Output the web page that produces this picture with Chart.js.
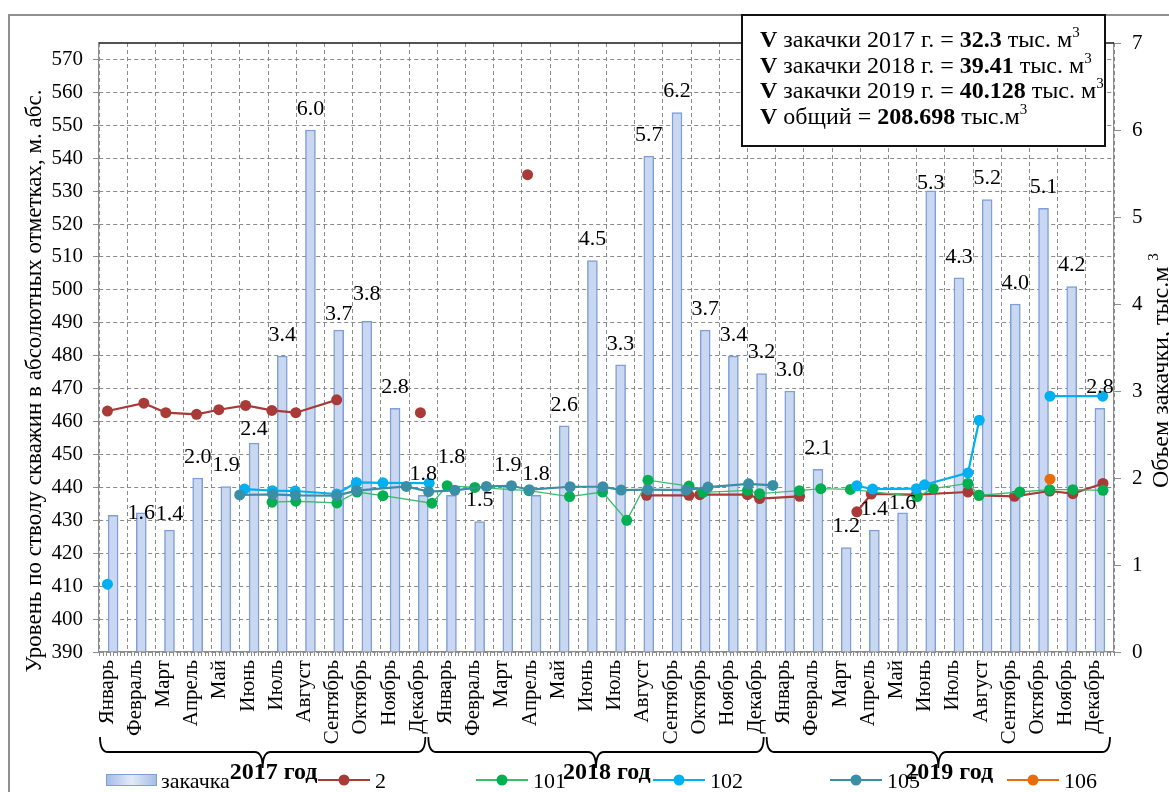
<!DOCTYPE html>
<html>
<head>
<meta charset="utf-8">
<script src="https://cdn.jsdelivr.net/npm/chart.js@4.4.1/dist/chart.umd.min.js"></script>
<style>
  html, body { margin: 0; padding: 0; background: #fff; }
  #wrap { width: 1169px; height: 792px; position: relative; }
</style>
</head>
<body>
<div id="wrap"><canvas id="chart" width="1169" height="792"></canvas></div>
<script>
// --- data ---
const months = ['Январь', 'Февраль', 'Март', 'Апрель', 'Май', 'Июнь', 'Июль', 'Август', 'Сентябрь', 'Октябрь', 'Ноябрь', 'Декабрь'];
const years = ['2017 год', '2018 год', '2019 год'];
const categories = years.flatMap(() => months);

// monthly injection volume, thousand m3 (right axis)
const injection = [1.57, 1.6, 1.4, 2.0, 1.9, 2.4, 3.4, 6.0, 3.7, 3.8, 2.8, 1.8,
                   1.8, 1.5, 1.9, 1.8, 2.6, 4.5, 3.3, 5.7, 6.2, 3.7, 3.4, 3.2,
                   3.0, 2.1, 1.2, 1.4, 1.6, 5.3, 4.3, 5.2, 4.0, 5.1, 4.2, 2.8];
const injectionLabels = ['', '1.6', '1.4', '2.0', '1.9', '2.4', '3.4', '6.0', '3.7', '3.8', '2.8', '1.8',
                         '1.8', '1.5', '1.9', '1.8', '2.6', '4.5', '3.3', '5.7', '6.2', '3.7', '3.4', '3.2',
                         '3.0', '2.1', '1.2', '1.4', '1.6', '5.3', '4.3', '5.2', '4.0', '5.1', '4.2', '2.8'];
const levelTicks = [390, 400, 410, 420, 430, 440, 450, 460, 470, 480, 490, 500, 510, 520, 530, 540, 550, 560, 570];

// well levels: [month position from Jan 2017 (0..36), level m abs]; null = break in line
const well2 = [[0.30, 463.2], [1.59, 465.6], [2.37, 462.7], [3.46, 462.2], [4.25, 463.6], [5.20, 464.9],
               [6.13, 463.4], [6.98, 462.7], [8.43, 466.6], null, [11.40, 462.7], null, [15.20, 535.0], null,
               [19.42, 437.6], [20.93, 437.6], [21.31, 437.8], [23.00, 437.8], [23.43, 436.6], [24.85, 437.3], null,
               [26.88, 432.6], [27.39, 438.0], [28.99, 437.8], [30.82, 438.6], [31.21, 437.6], [32.47, 437.3],
               [33.72, 438.9], [34.54, 438.1], [35.61, 441.2]];
const well101 = [[6.14, 435.5], [6.98, 435.8], [8.44, 435.3], [9.15, 438.6], [10.07, 437.5], [11.81, 435.2],
                 [12.35, 440.5], [13.33, 440.0], [15.25, 439.0], [16.69, 437.2], [17.86, 438.6], [18.72, 430.0],
                 [19.47, 442.2], [20.93, 440.4], [21.42, 438.5], [23.00, 439.1], [23.43, 438.1], [24.84, 439.0],
                 [25.60, 439.6], [26.65, 439.4], [29.02, 437.2], [29.59, 439.6], [30.82, 441.2], [31.21, 437.6],
                 [32.66, 438.6], [33.72, 439.3], [34.54, 439.3], [35.61, 439.1]];
const well102 = [[0.30, 410.6], null, [5.16, 439.5], [6.15, 439.0], [6.96, 438.9], [8.43, 438.0], [9.13, 441.5],
                 [10.07, 441.4], [11.71, 441.3], null, [26.88, 440.5], [27.44, 439.5], [28.99, 439.6],
                 [29.28, 440.8], [30.82, 444.4], [31.22, 460.4], null, [33.73, 467.7], [35.60, 467.7]];
const well105 = [[4.99, 437.7], [6.16, 437.9], [6.97, 437.6], [8.43, 437.5], [9.13, 439.0], [10.90, 440.3],
                 [11.69, 438.7], [12.62, 439.1], [13.74, 440.3], [14.63, 440.5], [15.26, 439.3], [16.71, 440.2],
                 [17.87, 440.2], [18.52, 439.2], [19.46, 439.3], [20.83, 439.2], [21.60, 440.1], [23.04, 441.1],
                 [23.90, 440.6]];
const well106 = [[33.73, 442.5]];

const summaryYears = ['2017', '2018', '2019'];
const summaryVolumes = ['32.3', '39.41', '40.128'];
const summaryTotal = '208.698';

// --- styling ---
const serif = '"Liberation Serif", "Times New Roman", serif';
const gridGray = '#8a8a8a';
const axisGray = '#8c8c8c';
const wells = [
  { name: '2', data: well2, color: '#a83a37', width: 2.2 },
  { name: '101', data: well101, color: '#00b050', line: '#3dbb6c', width: 1.3 },
  { name: '102', data: well102, color: '#00b0f0', width: 2.2 },
  { name: '105', data: well105, color: '#3a8ea6', width: 2.2 },
  { name: '106', data: well106, color: '#e86c0c', width: 2.2 }
];
// label lift above the bar top, and hand-moved labels (bar index -> extra px)
const labelLift = 21;
const labelNudge = { 1: 21, 2: 5, 5: 7, 8: 5, 9: -6, 12: -17, 28: 11, 29: 13 };

function toPoints(list) {
  const out = [];
  let lastX = 0;
  for (const p of list) {
    if (p === null) {
      out.push({ x: lastX + 0.05, y: null });
    } else {
      out.push({ x: p[0], y: p[1] });
      lastX = p[0];
    }
  }
  return out;
}

// draw a row of text pieces, bold / superscript where asked
function drawRuns(ctx, x, y, parts, size) {
  for (const p of parts) {
    const s = p.sup ? Math.round(size * 0.62) : size;
    ctx.font = (p.bold ? 'bold ' : '') + s + 'px ' + serif;
    ctx.fillText(p.t, x, p.sup ? y - size * 0.4 : y);
    x += ctx.measureText(p.t).width;
  }
  return x;
}

function barFill(ctx, x0, x1) {
  const g = ctx.createLinearGradient(x0, 0, x1, 0);
  g.addColorStop(0, '#a3bce6');
  g.addColorStop(0.5, '#e2eaf7');
  g.addColorStop(1, '#a3bce6');
  return g;
}

const decorations = {
  id: 'decorations',
  beforeDatasetsDraw(chart) {
    const { ctx, chartArea } = chart;
    // minor ticks under the category axis
    const xl = chart.scales.xl;
    ctx.save();
    ctx.strokeStyle = axisGray;
    ctx.lineWidth = 1;
    ctx.beginPath();
    for (let v = 0; v <= 36.001; v += 0.125) {
      const px = Math.round(xl.getPixelForValue(v)) + 0.5;
      ctx.moveTo(px, chartArea.bottom);
      ctx.lineTo(px, chartArea.bottom + 4);
    }
    ctx.stroke();
    ctx.restore();
  },
  afterDraw(chart) {
    const { ctx, chartArea } = chart;
    const x = chart.scales.x;
    ctx.save();

    // outer frame of the picture
    ctx.strokeStyle = '#8f8f8f';
    ctx.lineWidth = 2;
    ctx.beginPath();
    ctx.moveTo(9, 800);
    ctx.lineTo(9, 15);
    ctx.lineTo(1175, 15);
    ctx.stroke();

    // dark top edge of the plot
    ctx.strokeStyle = '#1a1a1a';
    ctx.lineWidth = 1.5;
    ctx.beginPath();
    ctx.moveTo(chartArea.left, chartArea.top);
    ctx.lineTo(chartArea.right, chartArea.top);
    ctx.stroke();

    // bar value labels
    const bars = chart.getDatasetMeta(0).data;
    ctx.fillStyle = '#000';
    ctx.font = '22px ' + serif;
    ctx.textAlign = 'center';
    ctx.textBaseline = 'middle';
    bars.forEach((b, i) => {
      if (injectionLabels[i]) ctx.fillText(injectionLabels[i], b.x, b.y - labelLift + (labelNudge[i] || 0));
    });

    // year braces
    const step = x.getPixelForValue(1) - x.getPixelForValue(0);
    ctx.strokeStyle = '#000';
    ctx.lineWidth = 1.8;
    ctx.textAlign = 'left';
    ctx.textBaseline = 'alphabetic';
    years.forEach((label, k) => {
      const first = x.getPixelForValue(k * 12) - step / 2;
      const last = x.getPixelForValue(k * 12 + 11) + step / 2;
      const a = k === 0 ? first + 1 : first - 9;
      const b = k === years.length - 1 ? last - 4 : last - 12;
      const mid = (a + b) / 2;
      const yTop = 737, yLine = 752, yTip = 768, r = 8;
      ctx.beginPath();
      ctx.moveTo(a, yTop);
      ctx.quadraticCurveTo(a, yLine, a + r, yLine);
      ctx.lineTo(mid - r, yLine);
      ctx.quadraticCurveTo(mid, yLine, mid, yTip);
      ctx.quadraticCurveTo(mid, yLine, mid + r, yLine);
      ctx.lineTo(b - r, yLine);
      ctx.quadraticCurveTo(b, yLine, b, yTop);
      ctx.stroke();
      ctx.font = 'bold 24px ' + serif;
      ctx.fillText(label, mid - 33, 779);
    });

    // legend row
    const ly = 780;
    ctx.font = '22px ' + serif;
    ctx.textBaseline = 'middle';
    ctx.fillStyle = barFill(ctx, 106, 157);
    ctx.fillRect(106, ly - 6, 51, 12);
    ctx.strokeStyle = '#7f9fd7';
    ctx.lineWidth = 1;
    ctx.strokeRect(106.5, ly - 5.5, 50, 11);
    ctx.fillStyle = '#000';
    ctx.fillText('закачка', 161, ly + 2);
    const legendX = [318, 476, 653, 830, 1007];
    wells.forEach((w, i) => {
      const lx = legendX[i];
      ctx.strokeStyle = w.line || w.color;
      ctx.lineWidth = 2.2;
      ctx.beginPath();
      ctx.moveTo(lx, ly);
      ctx.lineTo(lx + 52, ly);
      ctx.stroke();
      ctx.fillStyle = w.color;
      ctx.beginPath();
      ctx.arc(lx + 26, ly, 5.5, 0, Math.PI * 2);
      ctx.fill();
      ctx.fillStyle = '#000';
      ctx.fillText(w.name, lx + 57, ly + 2);
    });

    // summary box
    ctx.fillStyle = '#fff';
    ctx.fillRect(742, 15, 363, 131);
    ctx.strokeStyle = '#111';
    ctx.lineWidth = 2;
    ctx.strokeRect(742, 15, 363, 131);
    ctx.fillStyle = '#000';
    ctx.textBaseline = 'alphabetic';
    const fs = 24;
    summaryYears.forEach((yr, i) => {
      drawRuns(ctx, 760, 47 + i * 25.5, [
        { t: 'V', bold: true }, { t: ' закачки ' + yr + ' г. = ' },
        { t: summaryVolumes[i], bold: true }, { t: ' тыс. м' }, { t: '3', sup: true }
      ], fs);
    });
    drawRuns(ctx, 760, 47 + 3 * 25.5, [
      { t: 'V', bold: true }, { t: ' общий = ' }, { t: summaryTotal, bold: true },
      { t: ' тыс.м' }, { t: '3', sup: true }
    ], fs);

    // axis titles
    ctx.save();
    ctx.translate(41, 381);
    ctx.rotate(-Math.PI / 2);
    ctx.font = '23px ' + serif;
    ctx.textAlign = 'center';
    ctx.fillText('Уровень по стволу скважин в абсолютных отметках, м. абс.', 0, 0);
    ctx.restore();

    ctx.save();
    ctx.translate(1168, 488);
    ctx.rotate(-Math.PI / 2);
    ctx.textAlign = 'left';
    drawRuns(ctx, 0, 0, [{ t: 'Объем закачки, тыс.м ' }, { t: '3', sup: true }], 24);
    ctx.restore();

    ctx.restore();
  }
};

const datasets = [{
  type: 'bar',
  label: 'закачка',
  data: injection,
  xAxisID: 'x',
  yAxisID: 'y1',
  order: 10,
  grouped: false, // otherwise the bar is shifted half a slot off its month
  barThickness: 10,
  backgroundColor: (c) => {
    const el = c.element;
    if (!el || !isFinite(el.x)) return '#c9d8f0';
    return barFill(c.chart.ctx, el.x - 5, el.x + 5);
  },
  borderColor: '#7f9fd6',
  borderWidth: 1.5,
  borderSkipped: 'bottom'
}];
wells.forEach((w, i) => {
  datasets.push({
    type: 'line',
    label: w.name,
    data: toPoints(w.data),
    xAxisID: 'xl',
    yAxisID: 'y',
    order: 5 - i,
    spanGaps: false,
    borderColor: w.line || w.color,
    borderWidth: w.width,
    backgroundColor: w.color,
    pointBackgroundColor: w.color,
    pointBorderColor: w.color,
    pointRadius: 5.5,
    pointBorderWidth: 0,
    tension: 0
  });
});

new Chart(document.getElementById('chart'), {
  data: { labels: categories, datasets },
  options: {
    responsive: false,
    animation: false,
    devicePixelRatio: 1,
    layout: { padding: { top: 43, left: 0, right: 0, bottom: 0 } },
    plugins: { legend: { display: false }, tooltip: { enabled: false } },
    scales: {
      x: {
        type: 'category',
        position: 'bottom',
        offset: true,
        grid: { offset: true, color: gridGray, lineWidth: 1, drawTicks: false },
        border: { display: true, color: axisGray, width: 1.2, dash: [4, 3] },
        ticks: {
          autoSkip: false, maxRotation: 90, minRotation: 90, padding: 8, labelOffset: -6,
          color: '#000', font: { family: serif, size: 21 }
        },
        afterFit: (s) => { s.height = 140; }
      },
      xl: {
        type: 'linear',
        display: false,
        min: 0,
        max: 36
      },
      y: {
        type: 'linear',
        position: 'left',
        min: 390,
        max: 575,
        afterBuildTicks: (s) => { s.ticks = levelTicks.map(v => ({ value: v })); },
        grid: { color: gridGray, lineWidth: 1, tickLength: 6, tickColor: gridGray },
        border: { display: true, color: axisGray, width: 1.2, dash: [4, 3] },
        ticks: { padding: 10, color: '#000', font: { family: serif, size: 21 } },
        afterFit: (s) => { s.width = 99; }
      },
      y1: {
        type: 'linear',
        position: 'right',
        min: 0,
        max: 7,
        grid: { drawOnChartArea: false, tickLength: 7, color: axisGray },
        border: { display: true, color: axisGray, width: 1.2 },
        ticks: { stepSize: 1, padding: 11, color: '#000', font: { family: serif, size: 21 } },
        afterFit: (s) => { s.width = 55; }
      }
    }
  },
  plugins: [decorations]
});
</script>
</body>
</html>
